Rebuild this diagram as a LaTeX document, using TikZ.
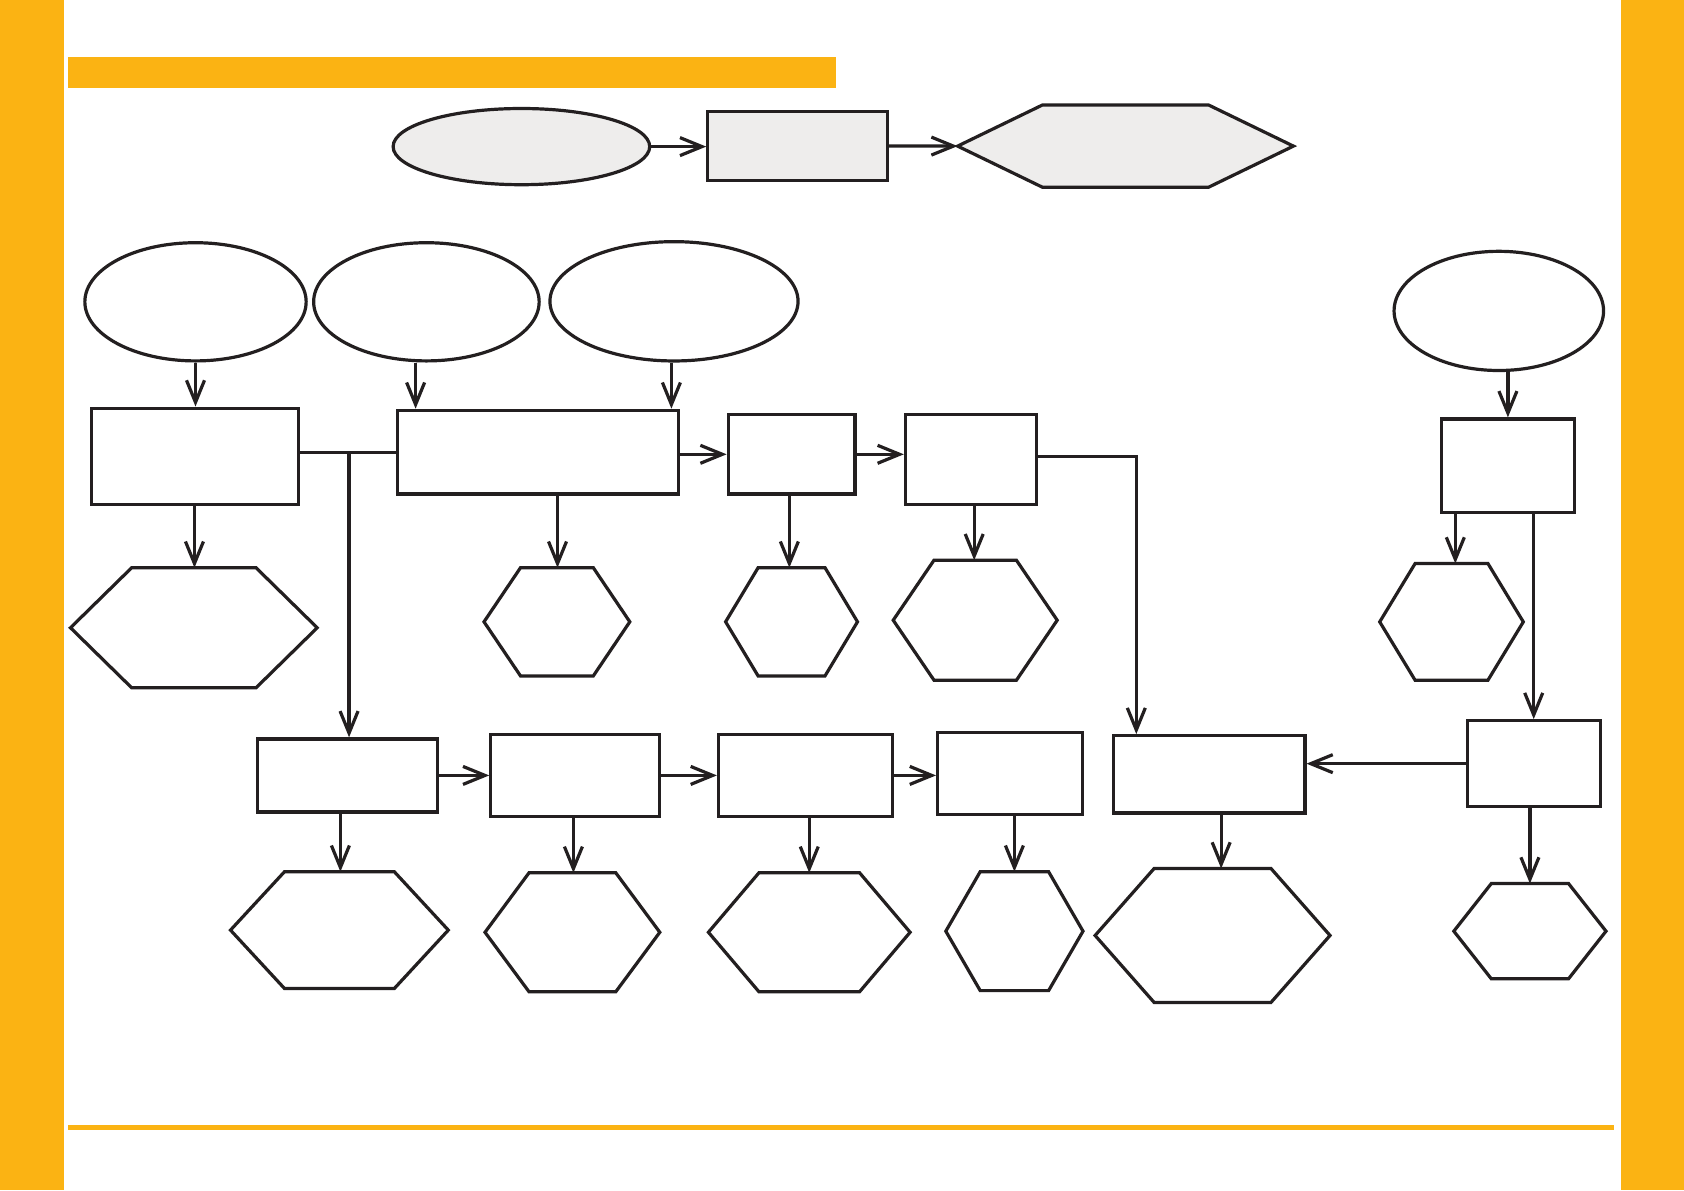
\documentclass[tikz,border=0pt]{standalone}
\usepackage{tikz}
\usetikzlibrary{arrows.meta,shapes.geometric,fit}

\definecolor{barorange}{HTML}{FBB313}
\definecolor{inkline}{HTML}{231F20}
\definecolor{shadefill}{HTML}{EEEDEC}

\tikzset{
  shape line/.style={draw=inkline, line width=1.6pt, line join=miter},
  box/.style={shape line, rectangle, inner sep=0pt},
  oval/.style 2 args={shape line, ellipse, inner sep=0pt,
    minimum width=#1*0.5pt, minimum height=#2*0.5pt},
  link/.style={draw=inkline, line width=1.6pt},
  arr/.style={link, -{Straight Barb[length=11pt,width=9pt]}},
}

% hexagon: name, left x, right x, top y, bottom y, inset of the corners
\newcommand{\hexagon}[7][]{%
  \node[fit={(#3,#5) (#4,#6)}, inner sep=0pt] (#2) {};
  \draw[shape line,#1] (#2.west) -- ([xshift=#7*0.5pt]#2.north west)
    -- ([xshift=-#7*0.5pt]#2.north east) -- (#2.east)
    -- ([xshift=-#7*0.5pt]#2.south east) -- ([xshift=#7*0.5pt]#2.south west) -- cycle;}

\begin{document}
\begin{tikzpicture}[x=0.5pt, y=-0.5pt]
  \useasboundingbox (0,0) rectangle (1684,1190);
  \fill[white] (0,0) rectangle (1684,1190);

  % page frame
  \fill[barorange] (0,0) rectangle (64,1190);
  \fill[barorange] (1621,0) rectangle (1684,1190);
  \fill[barorange] (68,57) rectangle (836,88);
  \fill[barorange] (68,1125) rectangle (1614,1129.5);

  % top row
  \node[oval={256.6}{76.2}, fill=shadefill] (start) at (521.4,146.6) {};
  \node[box, fill=shadefill, fit={(707.8,111.7) (887.1,180.4)}] (step0) {};
  \hexagon[fill=shadefill]{goal}{958}{1293}{105.3}{186.9}{85}
  \draw[arr] (start.east) -- (start.east -| step0.west);
  \draw[arr] (step0.east) -- (goal.west);

  % sources
  \node[oval={221.3}{118.2}] (srca) at (195.5,301.8) {};
  \node[oval={225.5}{118.2}] (srcb) at (426.4,301.8) {};
  \node[oval={248.1}{119.3}] (srcc) at (674,301.3) {};
  \node[oval={209.5}{119.2}] (srcd) at (1498.8,310.9) {};

  % middle row
  \node[box, fit={(91.3,408.1) (298.6,504.8)}] (boxa) {};
  \node[box, fit={(397.4,410.3) (678.8,494)}] (boxb) {};
  \node[box, fit={(728.2,414.6) (854.9,494)}] (boxc) {};
  \node[box, fit={(905.4,414.6) (1036.4,504.8)}] (boxd) {};
  \node[box, fit={(1441.3,418.9) (1574.5,512.3)}] (boxe) {};

  \hexagon{outa}{70.9}{316.8}{568.1}{687.4}{61.2}
  \hexagon{outb}{484.4}{629.4}{568.1}{675.5}{36.5}
  \hexagon{outc}{726}{857.1}{568.1}{675.5}{32.5}
  \hexagon{outd}{893.6}{1056.8}{560.6}{679.8}{40.8}
  \hexagon{oute}{1380.1}{1522.9}{563.9}{679.8}{35.4}

  % bottom row
  \node[box, fit={(257.8,738.9) (437.1,811.9)}] (boxf) {};
  \node[box, fit={(490.8,734.6) (659.4,816.2)}] (boxg) {};
  \node[box, fit={(718.5,734.6) (892.5,816.2)}] (boxh) {};
  \node[box, fit={(937.6,732.5) (1082.6,814.1)}] (boxi) {};
  \node[box, fit={(1113.7,735.7) (1304.9,813)}] (boxj) {};
  \node[box, fit={(1467.1,720.7) (1600.3,806.6)}] (boxk) {};

  \hexagon{outf}{230.9}{447.9}{872.1}{988.1}{54}
  \hexagon{outg}{485.4}{659.4}{873.2}{991.3}{44}
  \hexagon{outh}{708.8}{909.7}{873.2}{991.3}{50.5}
  \hexagon{outi}{946.2}{1082.6}{872.1}{990.2}{34.4}
  \hexagon{outj}{1095.5}{1329.6}{868.9}{1002}{59}
  \hexagon{outk}{1454.2}{1605.6}{883.9}{978.4}{37.5}

  % sources into boxes
  \draw[arr] (srca.south) -- (srca.south |- boxa.north);
  \draw[arr] ([xshift=-5.4pt]srcb.south) -- ([xshift=-5.4pt]srcb.south |- boxb.north);
  \draw[arr] ([xshift=-1.3pt]srcc.south) -- ([xshift=-1.3pt]srcc.south |- boxb.north);
  \draw[arr] (srcd.south -| boxe.north) -- (boxe.north);

  % middle row links
  \draw[link] (boxb.west -| boxa.east) -- (boxb.west);
  \draw[arr] ([xshift=0.8pt]boxb.west -| boxf.north) -- ([xshift=0.8pt]boxf.north);
  \draw[arr] (boxc.west -| boxb.east) -- (boxc.west);
  \draw[arr] (boxc.east) -- (boxc.east -| boxd.west);
  \coordinate (bend) at (1136.3,456.4);
  \draw[arr] (bend -| boxd.east) -- (bend) -- (bend |- boxj.north);
  \draw[arr] (boxe.south -| boxk.north) -- (boxk.north);

  % bottom row links
  \draw[arr] (boxf.east) -- (boxf.east -| boxg.west);
  \draw[arr] (boxg.east) -- (boxh.west);
  \draw[arr] (boxh.east) -- (boxh.east -| boxi.west);
  \draw[arr] (boxk.west) -- (boxk.west -| boxj.east);

  % boxes into results
  \foreach \b/\h/\dx in {boxa/outa/0.3, boxb/outb/0.3, boxc/outc/-1.1, boxd/outd/-0.5,
                         boxe/oute/1.9, boxf/outf/0.5, boxg/outg/0.5, boxh/outh/0,
                         boxi/outi/0, boxj/outj/4.3, boxk/outk/0}
    \draw[arr] ([xshift=\dx pt]\b.south -| \h.north) -- ([xshift=\dx pt]\h.north);
\end{tikzpicture}
\end{document}
